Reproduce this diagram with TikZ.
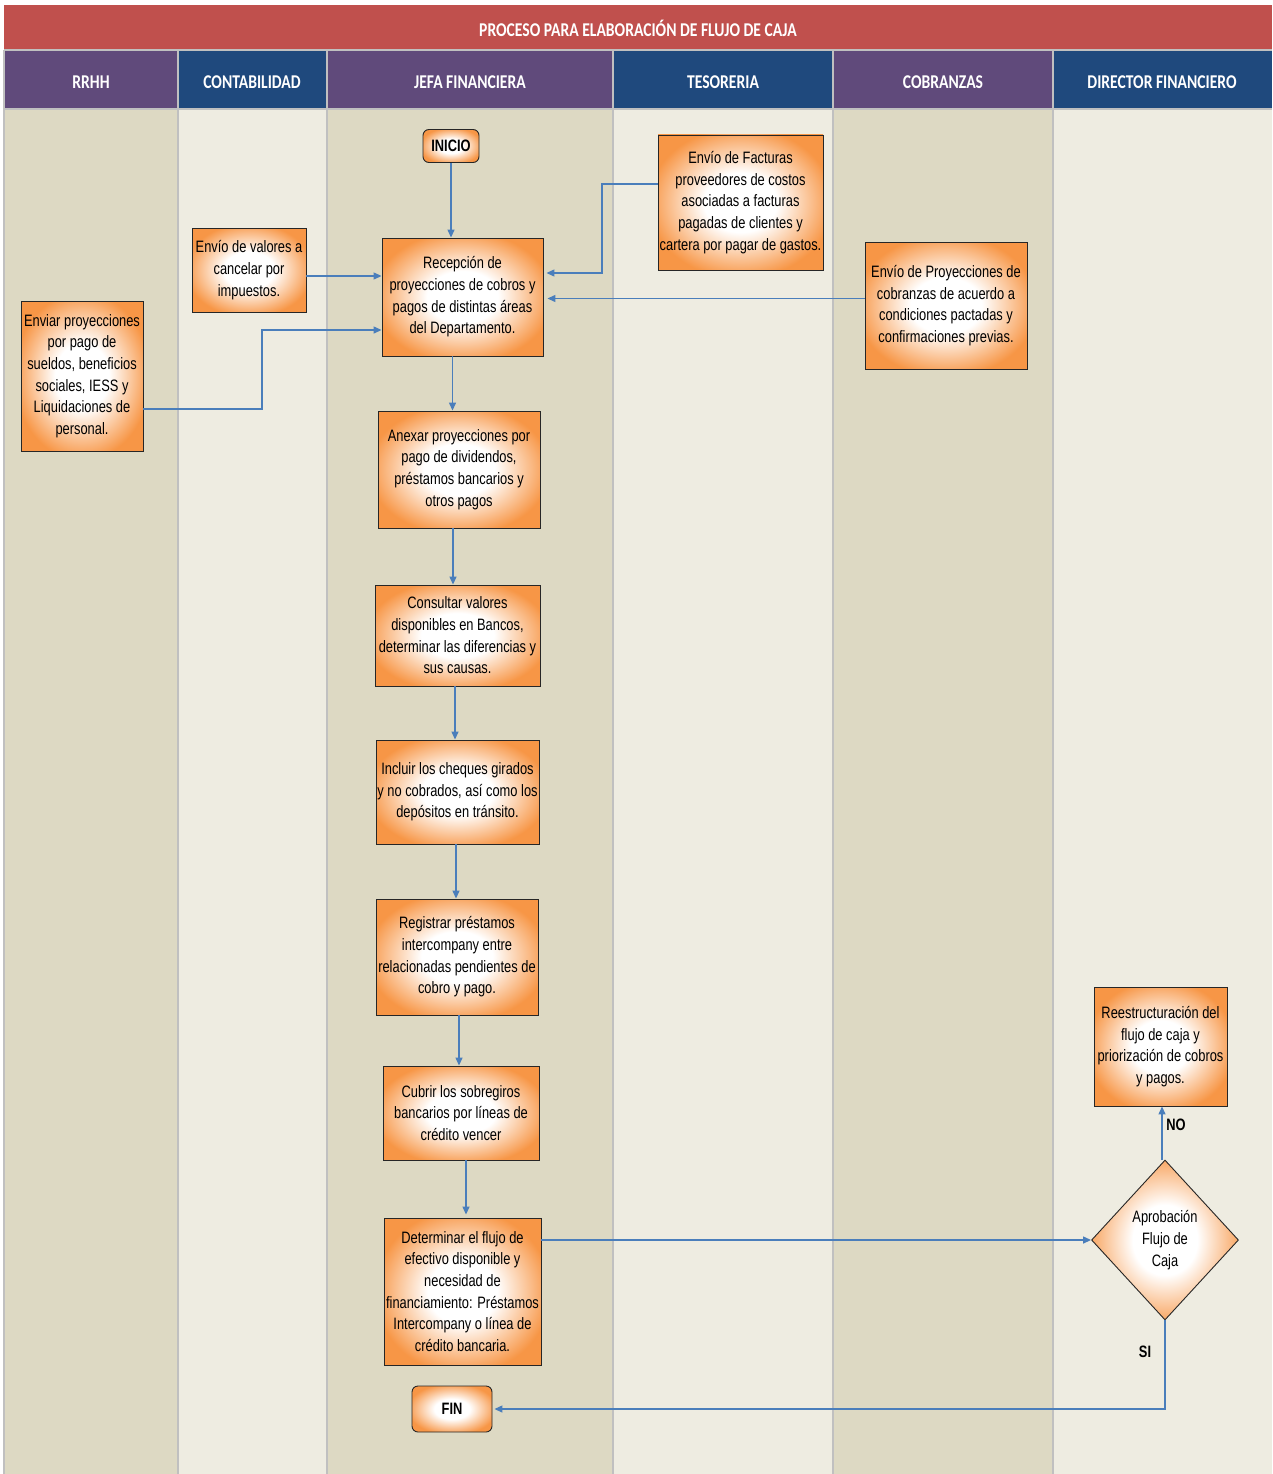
\documentclass[tikz,border=0pt]{standalone}
\usepackage{fontspec}
\setmainfont{Liberation Sans}[FakeStretch=0.78]
\newfontfamily\headfont{Carlito}[FakeStretch=0.8]
\usetikzlibrary{shapes.geometric,arrows.meta}

\definecolor{titlered}{HTML}{C0504D}
\definecolor{lanepurple}{HTML}{604A7B}
\definecolor{laneblue}{HTML}{1F497D}
\definecolor{lanedark}{HTML}{DDD9C3}
\definecolor{lanelight}{HTML}{EEECE1}
\definecolor{gridgray}{HTML}{C0C0C0}
\definecolor{flowblue}{HTML}{4A7EBB}
\definecolor{boxorange}{HTML}{F79646}

\pgfdeclareradialshading{boxglow}{\pgfpoint{0bp}{0bp}}{%
  color(0bp)=(white); color(11bp)=(white); color(28bp)=(boxorange); color(50bp)=(boxorange)}

\newcommand{\boxfont}{\fontsize{16.5}{21.7}\selectfont}

\tikzset{
  proc/.style={draw=black!85, line width=0.9pt, shade, shading=boxglow,
    align=center, inner sep=0pt, font=\boxfont},
  term/.style={proc, rounded corners=6pt, font=\boxfont\bfseries},
  decision/.style={diamond, draw=black!85, line width=0.9pt, shade, shading=boxglow,
    align=center, inner sep=0pt, font=\boxfont},
  flow/.style={draw=flowblue, line width=1.3pt,
    -{Triangle[length=8pt,width=7pt]}},
  headcell/.style={text=white, font=\headfont\bfseries\fontsize{19.5}{22}\selectfont},
  tag/.style={font=\boxfont\bfseries}
}

\begin{document}
\begin{tikzpicture}[x=1pt,y=-1pt]
\useasboundingbox (0,0) rectangle (1272,1474);
\fill[white] (0,0) rectangle (1272,1474);

% lane bodies
\fill[lanedark]  (4,110)   rectangle (178,1474);
\fill[lanelight] (178,110) rectangle (327,1474);
\fill[lanedark]  (327,110) rectangle (613,1474);
\fill[lanelight] (613,110) rectangle (833,1474);
\fill[lanedark]  (833,110) rectangle (1053,1474);
\fill[lanelight] (1053,110) rectangle (1272,1474);

% title bar
\fill[titlered] (4,5) rectangle (1272,50);
\node[headcell] (title) at (638,28) {PROCESO PARA ELABORACIÓN DE FLUJO DE CAJA};

% lane headers
\fill[lanepurple] (4,51)    rectangle (178,109);
\fill[laneblue]   (178,51)  rectangle (327,109);
\fill[lanepurple] (327,51)  rectangle (613,109);
\fill[laneblue]   (613,51)  rectangle (833,109);
\fill[lanepurple] (833,51)  rectangle (1053,109);
\fill[laneblue]   (1053,51) rectangle (1272,109);
\node[headcell] (hrrhh) at (91,82)   {RRHH};
\node[headcell] (hcont) at (252,82)  {CONTABILIDAD};
\node[headcell] (hjefa) at (470,82)  {JEFA FINANCIERA};
\node[headcell] (htes)  at (723,82)  {TESORERIA};
\node[headcell] (hcob)  at (943,82)  {COBRANZAS};
\node[headcell] (hdir)  at (1162,82) {DIRECTOR FINANCIERO};

% grid lines
\begin{scope}[draw=gridgray, line width=2pt]
  \draw (4,50.5) -- (1272,50.5);
  \draw (4,109.5) -- (1272,109.5);
  \foreach \gx in {4,178,327,613,833,1053}
    \draw (\gx,50) -- (\gx,1474);
\end{scope}

% process steps
\node[term, minimum width=56pt, minimum height=33pt] (inicio) at (451,146) {INICIO};
\node[proc, minimum width=161pt, minimum height=118pt] (rec) at (462.5,297)
  {Recepción de\\ proyecciones de cobros y\\ pagos de distintas áreas\\ del Departamento.};
\node[proc, minimum width=114pt, minimum height=84pt] (val) at (249,270)
  {Envío de valores a\\ cancelar por\\ impuestos.};
\node[proc, minimum width=122pt, minimum height=150pt] (env) at (82,376)
  {Enviar proyecciones\\ por pago de\\ sueldos, beneficios\\ sociales, IESS y\\ Liquidaciones de\\ personal.};
\node[proc, minimum width=165pt, minimum height=135pt] (fac) at (740.5,202.5)
  {Envío de Facturas\\ proveedores de costos\\ asociadas a facturas\\ pagadas de clientes y\\ cartera por pagar de gastos.};
\node[proc, minimum width=162pt, minimum height=127pt] (cob) at (946,305.5)
  {Envío de Proyecciones de\\ cobranzas de acuerdo a\\ condiciones pactadas y\\ confirmaciones previas.};
\node[proc, minimum width=162pt, minimum height=117pt] (anx) at (459,469.5)
  {Anexar proyecciones por\\ pago de dividendos,\\ préstamos bancarios y\\ otros pagos};
\node[proc, minimum width=165pt, minimum height=101pt] (con) at (457.5,635.5)
  {Consultar valores\\ disponibles en Bancos,\\ determinar las diferencias y\\ sus causas.};
\node[proc, minimum width=163pt, minimum height=104pt] (inc) at (457.5,792)
  {Incluir los cheques girados\\ y no cobrados, así como los\\ depósitos en tránsito.};
\node[proc, minimum width=162pt, minimum height=116pt] (reg) at (457,957)
  {Registrar préstamos\\ intercompany entre\\ relacionadas pendientes de\\ cobro y pago.};
\node[proc, minimum width=156pt, minimum height=94pt] (cub) at (461,1113)
  {Cubrir los sobregiros\\ bancarios por líneas de\\ crédito vencer};
\node[proc, minimum width=157pt, minimum height=147pt] (det) at (462.5,1291.5)
  {Determinar el flujo de\\ efectivo disponible y\\ necesidad de\\ financiamiento: Préstamos\\ Intercompany o línea de\\ crédito bancaria.};
\node[term, minimum width=80pt, minimum height=46pt] (fin) at (452,1409) {FIN};
\node[proc, minimum width=133pt, minimum height=119pt] (rees) at (1160.5,1046.5)
  {Reestructuración del\\ flujo de caja y\\ priorización de cobros\\ y pagos.};
\node[decision, minimum width=147pt, minimum height=160pt] (apr) at (1165,1240)
  {Aprobación\\ Flujo de\\ Caja};

% connector start points and bends
\coordinate (valout) at ([yshift=-6pt]val.east);
\coordinate (envout) at ([yshift=-33pt]env.east);
\coordinate (envbend) at (262,330);
\coordinate (facout) at ([yshift=18.5pt]fac.west);
\coordinate (facbend) at (602,273);
\coordinate (cobout) at ([yshift=7pt]cob.west);

% connectors
\draw[flow] (inicio.south) -- (inicio.south |- rec.north);
\draw[flow] (valout) -- (rec.west |- valout);
\draw[flow] (envout) -| (envbend) -- (rec.west |- envbend);
\draw[flow, shorten >=3pt] (facout) -| (facbend) -- (rec.east |- facbend);
\draw[flow, shorten >=4pt] (cobout) -- (rec.east |- cobout);
\draw[flow] ([xshift=-10pt]rec.south) -- ([xshift=-10pt]rec.south |- anx.north);
\draw[flow] ([xshift=-6pt]anx.south) -- ([xshift=-6pt]anx.south |- con.north);
\draw[flow] ([xshift=-2.5pt]con.south) -- ([xshift=-2.5pt]con.south |- inc.north);
\draw[flow] ([xshift=-1.5pt]inc.south) -- ([xshift=-1.5pt]inc.south |- reg.north);
\draw[flow] ([xshift=2pt]reg.south) -- ([xshift=2pt]reg.south |- cub.north);
\draw[flow, shorten >=3pt] ([xshift=5pt]cub.south) -- ([xshift=5pt]cub.south |- det.north);
\draw[flow] (apr.west -| det.east) -- (apr.west);
\draw[flow] ([xshift=-3pt]apr.north) -- ([xshift=-3pt]apr.north |- rees.south);
\draw[flow, shorten >=2pt] (apr.south) |- (fin.east);

% decision labels
\node[tag] (lno) at (1176,1125) {NO};
\node[tag] (lsi) at (1145,1352) {SI};
\end{tikzpicture}
\end{document}
